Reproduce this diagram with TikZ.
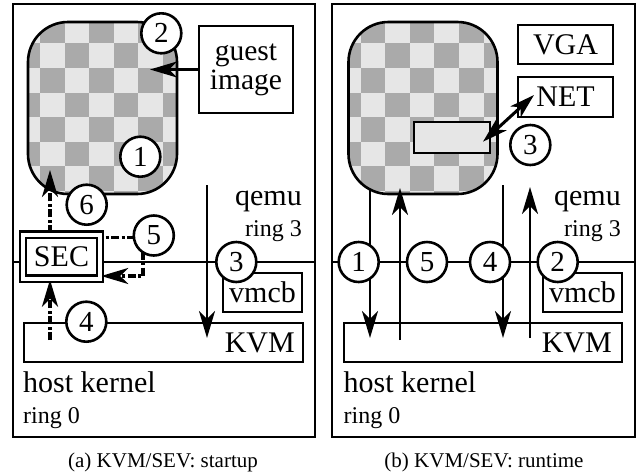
\documentclass[tikz,border=0pt]{standalone}
\usepackage{fontspec}
\setmainfont{Liberation Serif}
\usetikzlibrary{arrows.meta}
\pgfdeclarelayer{bg}
\pgfdeclarelayer{lines}
\pgfsetlayers{bg,lines,main}
\definecolor{chkdark}{RGB}{170,170,170}
\definecolor{chklight}{RGB}{230,230,230}
\begin{document}
\begin{tikzpicture}[x=1pt,y=-1pt,
  every node/.style={inner sep=0pt, font=\fontsize{30}{30}\selectfont},
  box/.style={draw, line width=2.6pt},
  num/.style={circle, draw, line width=2.6pt, fill=white, minimum size=40pt, font=\fontsize{29}{29}\selectfont},
  smalltext/.style={font=\fontsize{24}{24}\selectfont},
  captext/.style={font=\fontsize{21}{21}\selectfont},
  conn/.style={line width=2.8pt, -{Stealth[length=27pt,width=16pt,inset=8pt]}},
  conntwo/.style={line width=3pt, {Stealth[length=25pt,width=15pt,inset=7pt]}-{Stealth[length=25pt,width=15pt,inset=7pt]}},
  dd/.style={line width=3.2pt, dash pattern=on 8pt off 2.5pt on 3pt off 2.5pt},
  ddarrow/.style={dd, -{Stealth[length=27pt,width=16pt,inset=8pt]}},
  ringline/.style={line width=2.6pt},
  panel/.style={line width=2.6pt}
]
\useasboundingbox (0,0) rectangle (637,475);

\begin{pgfonlayer}{bg}
  % panels
  \draw[panel] (13,4) rectangle (315,437);
  \draw[panel] (332,4) rectangle (635,437);
  \draw[ringline] (13,262) -- (315,262);
  \draw[ringline] (332,262) -- (635,262);
  % checkerboards
  \foreach \ox in {0,320.5} {
    \begin{scope}[shift={(\ox,0)}]
      \fill[chklight, rounded corners=40pt] (28,22) rectangle (177,194);
      \begin{scope}
        \clip[rounded corners=40pt] (28,22) rectangle (177,194);
        \foreach \c in {-1,...,6} {
          \foreach \r in {-1,...,6} {
            \pgfmathtruncatemacro\chkp{mod(\c+\r+20,2)}
            \ifnum\chkp=1
              \fill[chkdark] ({40+24.6*\c},{43.3+24.6*\r}) rectangle ++(24.6,24.6);
            \fi
          }
        }
      \end{scope}
      \draw[line width=2.6pt, rounded corners=40pt] (28,22) rectangle (177,194);
    \end{scope}
  }
  \node[draw, line width=1.3pt, fill=chklight, minimum width=76pt, minimum height=31pt] (slot) at (452,137.5) {};
\end{pgfonlayer}

% ---------- left panel nodes ----------
\node[box, fill=white, minimum width=94pt, minimum height=87pt, align=center, font=\fontsize{29.5}{29}\selectfont] (guest) at (246,69.5) {guest\\image};
\node[box, minimum width=279pt, minimum height=39pt] (kvmL) at (163.5,342.5) {};
\node[anchor=base east] (kvmLt) at (295,352) {KVM};
\node[box, minimum width=79pt, minimum height=39pt] (vmcbL) at (262.5,292.5) {vmcb};
\node[draw, line width=2.4pt, double, double distance=4pt, fill=white, minimum width=77pt, minimum height=44pt] (sec) at (61.5,256.5) {SEC};
\node[anchor=base east] (qemuL) at (302,205) {qemu};
\node[smalltext, anchor=base east] (ring3L) at (302,236) {ring 3};
\node[anchor=base west] (hostL) at (23,392) {host kernel};
\node[smalltext, anchor=base west] (ring0L) at (23,423) {ring 0};
\node[captext, anchor=base] (capL) at (163,467) {(a) KVM/SEV: startup};

\node[num] (l1) at (140.3,156.7) {1};
\node[num] (l2) at (161.3,33.3) {2};
\node[num] (l3) at (236.3,262) {3};
\node[num] (l4) at (86.3,321.7) {4};
\node[num] (l5) at (153.8,235.5) {5};
\node[num] (l6) at (86.7,204.7) {6};

% ---------- right panel nodes ----------
\node[box, fill=white, minimum width=95pt, minimum height=39pt] (vga) at (565.5,44.5) {VGA};
\node[box, minimum width=95pt, minimum height=40pt] (net) at (565.5,97) {NET};
\node[box, minimum width=278pt, minimum height=39pt] (kvmR) at (483,342.5) {};
\node[anchor=base east] (kvmRt) at (612,352) {KVM};
\node[box, minimum width=79pt, minimum height=39pt] (vmcbR) at (582.5,292.5) {vmcb};
\node[anchor=base east] (qemuR) at (621,205) {qemu};
\node[smalltext, anchor=base east] (ring3R) at (621,236) {ring 3};
\node[anchor=base west] (hostR) at (343.5,392) {host kernel};
\node[smalltext, anchor=base west] (ring0R) at (343.5,423) {ring 0};
\node[captext, anchor=base] (capR) at (484,467) {(b) KVM/SEV: runtime};

\node[num] (r1) at (358.7,262) {1};
\node[num] (r2) at (557.7,262) {2};
\node[num] (r3) at (530.3,145) {3};
\node[num] (r4) at (490,262) {4};
\node[num] (r5) at (427,262) {5};

% ---------- coordinates ----------
\coordinate (gtip) at (150,69.5);
\coordinate (a3s) at (207,185);
\coordinate (a3e) at (207,338);
\coordinate (k4) at (50,340);
\coordinate (c6t) at (50,170);
\coordinate (p5a) at (95,237.5);
\coordinate (p5b) at (143,276);
\coordinate (q1s) at (370,190);
\coordinate (q1e) at (370,338);
\coordinate (q5s) at (400,340);
\coordinate (q5e) at (400,188);
\coordinate (q4s) at (503,185);
\coordinate (q4e) at (503,338);
\coordinate (q2s) at (530,338);
\coordinate (q2e) at (530,187);
\coordinate (slottip) at (483,141.7);
\coordinate (nettip) at (534,95);

% ---------- connectors ----------
\begin{pgfonlayer}{lines}
  \draw[conn] (guest.west) -- (gtip);
  \draw[conn] (a3s) -- (a3e);
  \draw[ddarrow] (k4) -- (sec.south -| k4);
  \draw[ddarrow] (sec.north -| k4) -- (c6t);
  \draw[dd] (p5a) -- (l5.center |- p5a);
  \draw[ddarrow] (l5.center -| p5b) -- (p5b) -- (sec.east |- p5b);
  \draw[conn] (q1s) -- (q1e);
  \draw[conn] (q5s) -- (q5e);
  \draw[conn] (q4s) -- (q4e);
  \draw[conn] (q2s) -- (q2e);
  \draw[conntwo] (slottip) -- (nettip);
\end{pgfonlayer}
\end{tikzpicture}
\end{document}
